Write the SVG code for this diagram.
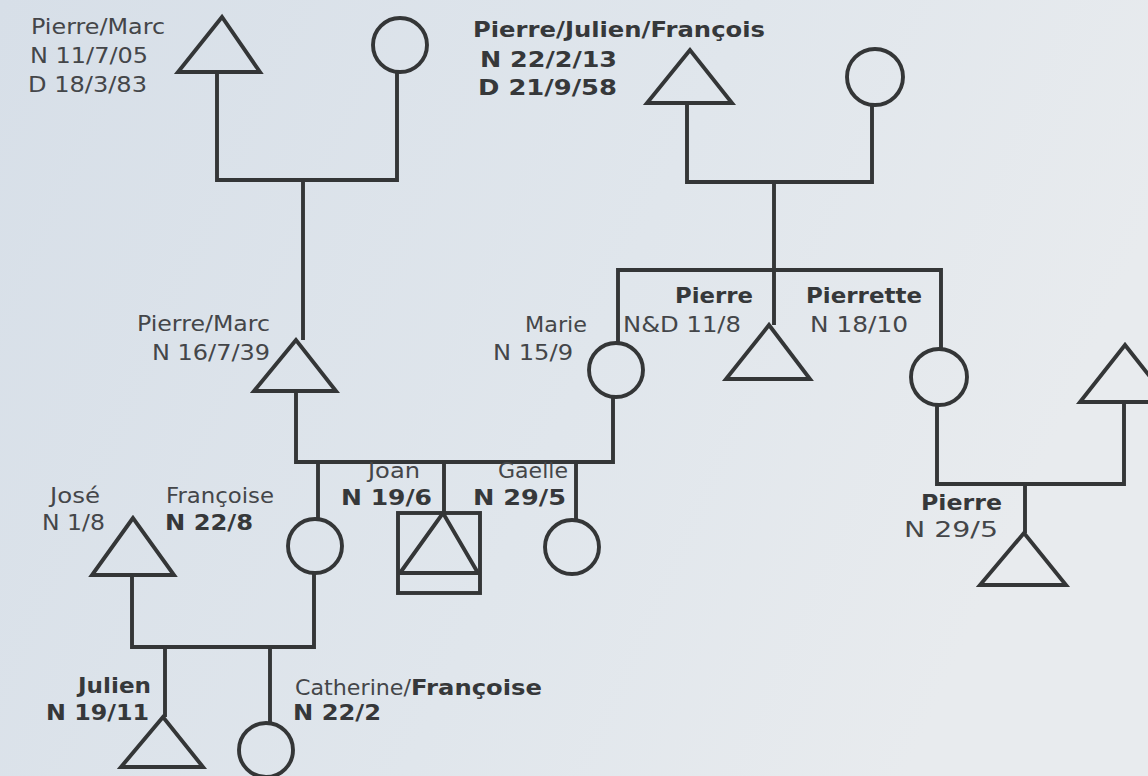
<svg xmlns="http://www.w3.org/2000/svg" width="1148" height="776" viewBox="0 0 1148 776">
<defs>
<linearGradient id="bg" x1="0" y1="0" x2="1" y2="0.3">
<stop offset="0" stop-color="#d7dfe8"/>
<stop offset="0.6" stop-color="#e0e6ec"/>
<stop offset="1" stop-color="#e8ebee"/>
</linearGradient>
<style>
.s{fill:none;stroke:#343637;stroke-width:3.9;stroke-linejoin:miter}
.c{fill:none;stroke:#343637;stroke-width:3.9}
.t{font-family:"DejaVu Sans","Verdana",sans-serif;font-size:21.5px;fill:#444649}
.b{font-weight:bold;fill:#36383a}
</style>
</defs>
<rect width="1148" height="776" fill="url(#bg)"/>
<g id="connectors" class="c">
<path d="M217,72 V180 H397 V72"/>
<path d="M303,180 V340"/>
<path d="M687,103 V182 H872 V105"/>
<path d="M774,182 V325"/>
<path d="M618,343 V270 H941 V349"/>
<path d="M296,391 V462 H613 V397"/>
<path d="M318,462 V519"/>
<path d="M444,462 V513"/>
<path d="M576,462 V520"/>
<path d="M132,575 V647 H314 V573"/>
<path d="M165,647 V717"/>
<path d="M270,647 V723"/>
<path d="M937,405 V484 H1124 V402"/>
<path d="M1025,484 V533"/>
</g>
<g id="gf-pierre-marc">
<polygon class="s" points="222,17 178,72 260,72"/>
<text class="t" x="31" y="34" textLength="134" lengthAdjust="spacingAndGlyphs">Pierre/Marc</text>
<text class="t" x="30" y="63" textLength="118" lengthAdjust="spacingAndGlyphs">N 11/7/05</text>
<text class="t" x="28" y="92" textLength="119" lengthAdjust="spacingAndGlyphs">D 18/3/83</text>
</g>
<g id="gm-left"><circle class="s" cx="400" cy="45" r="27"/></g>
<g id="gf-pierre-julien">
<polygon class="s" points="690,50 647,103 732,103"/>
<text class="t b" x="473" y="37" textLength="292" lengthAdjust="spacingAndGlyphs">Pierre/Julien/François</text>
<text class="t b" x="480" y="67" textLength="137" lengthAdjust="spacingAndGlyphs">N 22/2/13</text>
<text class="t b" x="478" y="95" textLength="139" lengthAdjust="spacingAndGlyphs">D 21/9/58</text>
</g>
<g id="gm-right"><circle class="s" cx="875" cy="77" r="28"/></g>
<g id="father-pierre-marc">
<polygon class="s" points="296,340 254,391 336,391"/>
<text class="t" x="137" y="331" textLength="133" lengthAdjust="spacingAndGlyphs">Pierre/Marc</text>
<text class="t" x="152" y="360" textLength="118" lengthAdjust="spacingAndGlyphs">N 16/7/39</text>
</g>
<g id="mother-marie">
<circle class="s" cx="616" cy="370" r="27"/>
<text class="t" x="525" y="332" textLength="62" lengthAdjust="spacingAndGlyphs">Marie</text>
<text class="t" x="493" y="360" textLength="80" lengthAdjust="spacingAndGlyphs">N 15/9</text>
</g>
<g id="uncle-pierre">
<polygon class="s" points="769,325 726,379 810,379"/>
<text class="t b" x="675" y="303" textLength="78" lengthAdjust="spacingAndGlyphs">Pierre</text>
<text class="t" x="623" y="332" textLength="118" lengthAdjust="spacingAndGlyphs">N&amp;D 11/8</text>
</g>
<g id="aunt-pierrette">
<circle class="s" cx="939" cy="377" r="28"/>
<text class="t b" x="806" y="303" textLength="116" lengthAdjust="spacingAndGlyphs">Pierrette</text>
<text class="t" x="810" y="332" textLength="98" lengthAdjust="spacingAndGlyphs">N 18/10</text>
</g>
<g id="aunt-husband"><polygon class="s" points="1125,345 1080,402 1170,402"/></g>
<g id="cousin-pierre">
<polygon class="s" points="1024,533 980,585 1066,585"/>
<text class="t b" x="921" y="510" textLength="81" lengthAdjust="spacingAndGlyphs">Pierre</text>
<text class="t" x="904" y="537" textLength="94" lengthAdjust="spacingAndGlyphs">N 29/5</text>
</g>
<g id="francoise">
<circle class="s" cx="315" cy="546" r="27"/>
<text class="t" x="166" y="503" textLength="108" lengthAdjust="spacingAndGlyphs">Françoise</text>
<text class="t b" x="165" y="530" textLength="88" lengthAdjust="spacingAndGlyphs">N 22/8</text>
</g>
<g id="joan">
<rect class="s" x="398" y="513" width="82" height="80"/>
<path class="s" d="M398,573 H480 M400,573 L443,513 L478,573"/>
<text class="t" x="368" y="478" textLength="52" lengthAdjust="spacingAndGlyphs">Joan</text>
<text class="t b" x="341" y="505" textLength="91" lengthAdjust="spacingAndGlyphs">N 19/6</text>
</g>
<g id="gaelle">
<circle class="s" cx="572" cy="547" r="27"/>
<text class="t" x="498" y="478" textLength="70" lengthAdjust="spacingAndGlyphs">Gaelle</text>
<text class="t b" x="473" y="505" textLength="93" lengthAdjust="spacingAndGlyphs">N 29/5</text>
</g>
<g id="jose">
<polygon class="s" points="133,518 92,575 174,575"/>
<text class="t" x="50" y="503" textLength="50" lengthAdjust="spacingAndGlyphs">José</text>
<text class="t" x="42" y="530" textLength="63" lengthAdjust="spacingAndGlyphs">N 1/8</text>
</g>
<g id="julien">
<polygon class="s" points="163,717 121,767 203,767"/>
<text class="t b" x="78" y="693" textLength="73" lengthAdjust="spacingAndGlyphs">Julien</text>
<text class="t b" x="46" y="720" textLength="103" lengthAdjust="spacingAndGlyphs">N 19/11</text>
</g>
<g id="catherine">
<circle class="s" cx="266" cy="750" r="27"/>
<text class="t" x="295" y="695"><tspan textLength="116" lengthAdjust="spacingAndGlyphs">Catherine/</tspan><tspan class="b" x="411" textLength="131" lengthAdjust="spacingAndGlyphs">Françoise</tspan></text>
<text class="t b" x="293" y="720" textLength="88" lengthAdjust="spacingAndGlyphs">N 22/2</text>
</g>
</svg>
